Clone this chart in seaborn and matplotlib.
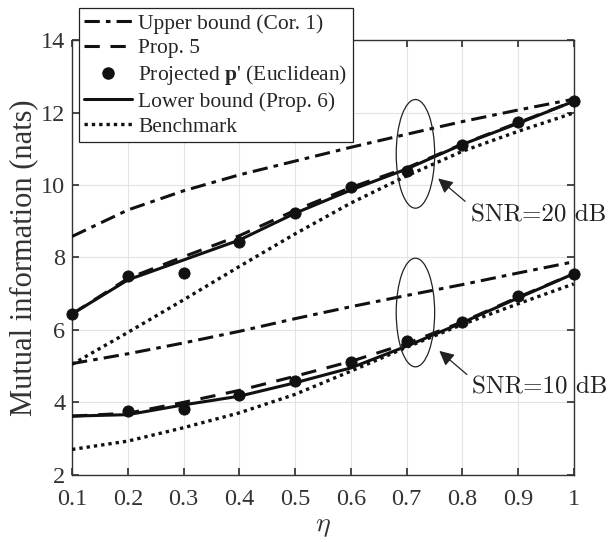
import numpy as np
import pandas as pd
import seaborn as sns
import matplotlib.pyplot as plt
from matplotlib.lines import Line2D
from matplotlib.patches import Ellipse

# eta values
eta = [0.1, 0.2, 0.3, 0.4, 0.5, 0.6, 0.7, 0.8, 0.9, 1.0]

# SNR = 20 dB
ub20 = [8.58, 9.31, 9.84, 10.28, 10.66, 11.04, 11.40, 11.75, 12.07, 12.37]
p5_20 = [6.44, 7.42, 8.02, 8.60, 9.30, 9.93, 10.47, 11.13, 11.72, 12.31]
proj20 = [6.44, 7.49, 7.58, 8.42, 9.24, 9.95, 10.39, 11.10, 11.73, 12.31]
lb20 = [6.44, 7.38, 7.93, 8.48, 9.22, 9.86, 10.44, 11.12, 11.70, 12.31]
bench20 = [5.05, 5.93, 6.83, 7.75, 8.65, 9.50, 10.25, 10.93, 11.48, 11.99]

# SNR = 10 dB
ub10 = [5.07, 5.34, 5.64, 5.96, 6.31, 6.64, 6.95, 7.25, 7.57, 7.88]
p5_10 = [3.62, 3.70, 4.00, 4.33, 4.72, 5.13, 5.62, 6.22, 6.90, 7.55]
proj10 = [np.nan, 3.77, 3.82, 4.19, 4.60, 5.12, 5.68, 6.21, 6.93, 7.55]
lb10 = [3.62, 3.66, 3.93, 4.17, 4.54, 4.95, 5.55, 6.20, 6.88, 7.55]
bench10 = [2.70, 2.93, 3.30, 3.71, 4.22, 4.86, 5.52, 6.15, 6.72, 7.27]

labels = ["Upper bound (Cor. 1)", "Prop. 5", "Projected $\\mathbf{p}$' (Euclidean)",
          "Lower bound (Prop. 6)", "Benchmark"]

sns.set_theme(style="ticks")
plt.rcParams['font.family'] = ['Liberation Serif', 'DejaVu Serif']
plt.rcParams['mathtext.fontset'] = 'custom'
plt.rcParams['mathtext.rm'] = 'Liberation Serif'
plt.rcParams['mathtext.bf'] = 'Liberation Serif:bold'
plt.rcParams['mathtext.it'] = 'Liberation Serif:italic'

fig = plt.figure(figsize=(6.11, 5.42), dpi=100)
ax = fig.add_axes([0.118, 0.124, 0.821, 0.802])

styles = {
    "ub": dict(ls=(0, (5, 2, 1.5, 2)), lw=2.2),
    "p5": dict(ls=(0, (5, 3.5)), lw=2.2),
    "lb": dict(ls='-', lw=2.2),
    "bench": dict(ls=(0, (1, 1.2)), lw=2.4),
}

for ub, p5, proj, lb, bench in [(ub20, p5_20, proj20, lb20, bench20),
                                (ub10, p5_10, proj10, lb10, bench10)]:
    df = pd.DataFrame({"eta": eta, "ub": ub, "p5": p5, "proj": proj,
                       "lb": lb, "bench": bench})
    for key in ["ub", "p5", "lb", "bench"]:
        sns.lineplot(data=df, x="eta", y=key, ax=ax, color='#111111',
                     linestyle=styles[key]["ls"], linewidth=styles[key]["lw"],
                     legend=False, zorder=3)
    sns.scatterplot(data=df, x="eta", y="proj", ax=ax, color='#111111',
                    s=65, edgecolor='#111111', legend=False, zorder=4, clip_on=False)

ax.set_xlim(0.1, 1.0)
ax.set_ylim(2, 14)
ax.set_xticks(eta)
ax.set_xticklabels(["0.1", "0.2", "0.3", "0.4", "0.5", "0.6", "0.7", "0.8", "0.9", "1"])
ax.set_yticks([2, 4, 6, 8, 10, 12, 14])
ax.grid(True, color='#e3e3e3', lw=0.8)
ax.set_axisbelow(True)
for s in ax.spines.values():
    s.set_color('#333333')
    s.set_linewidth(1.0)
    s.set_visible(True)
ax.tick_params(direction='in', top=True, right=True, labelsize=17.5,
               colors='#333333', length=5)
ax.tick_params(axis='x', pad=10)
ax.tick_params(axis='y', pad=5)
ax.set_xlabel(r"$\eta$", fontsize=20, color='#333333', math_fontfamily='cm', labelpad=3)
ax.set_ylabel("Mutual information (nats)", fontsize=22, color='#333333', labelpad=2)

# ellipses and annotations
for cy in [10.86, 6.48]:
    ax.add_patch(Ellipse((0.716, cy), 0.069, 3.0, fill=False, ec='#222222', lw=0.9, zorder=5))

ax.annotate("", xy=(0.753, 10.23), xytext=(0.809, 9.50),
            arrowprops=dict(arrowstyle='-|>', color='#222222', lw=0.9, mutation_scale=22))
ax.annotate("", xy=(0.755, 5.47), xytext=(0.812, 4.72),
            arrowprops=dict(arrowstyle='-|>', color='#222222', lw=0.9, mutation_scale=22))
ax.text(0.815, 9.15, "SNR=20 dB", fontsize=18, va='center', ha='left',
        family='cmr10', clip_on=False, color='#222222')
ax.text(0.818, 4.41, "SNR=10 dB", fontsize=18, va='center', ha='left',
        family='cmr10', clip_on=False, color='#222222')

handles = [
    Line2D([], [], color='#111111', ls=styles["ub"]["ls"], lw=styles["ub"]["lw"]),
    Line2D([], [], color='#111111', ls=styles["p5"]["ls"], lw=styles["p5"]["lw"]),
    Line2D([], [], color='#111111', ls='none', marker='o', markersize=8),
    Line2D([], [], color='#111111', ls='-', lw=styles["lb"]["lw"]),
    Line2D([], [], color='#111111', ls=styles["bench"]["ls"], lw=styles["bench"]["lw"]),
]
leg = fig.legend(handles, labels, loc='upper left', bbox_to_anchor=(0.129, 0.985),
                 fontsize=15.5, frameon=True, fancybox=False, framealpha=1,
                 edgecolor='#222222', handlelength=2.2, handletextpad=0.3,
                 labelspacing=0.22, borderpad=0.25, borderaxespad=0)
leg.get_frame().set_linewidth(0.9)

fig.savefig("out.png", dpi=100)
